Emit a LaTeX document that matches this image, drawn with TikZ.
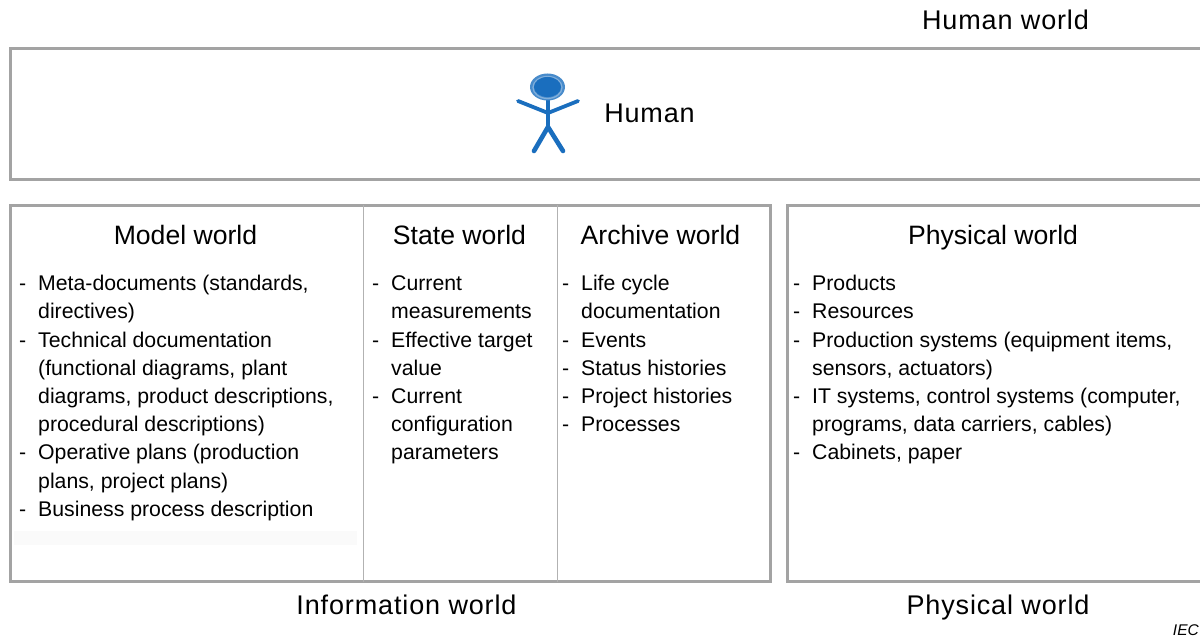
\documentclass[tikz,border=0pt]{standalone}
\usepackage{fontspec}
\setmainfont{Liberation Sans}
\newfontfamily\spacedfont[LetterSpace=3.2]{Liberation Sans}
\definecolor{figblue}{RGB}{26,110,190}
\tikzset{
 boxline/.style={draw=black!36,line width=2.2pt},
 divider/.style={draw=black!30,line width=1.8pt},
 wlabel/.style={font=\spacedfont\fontsize{27}{30}\selectfont,anchor=base,inner sep=0pt},
 head/.style={font=\fontsize{26.6}{30}\selectfont,anchor=base,inner sep=0pt},
 item/.style={font=\fontsize{21.25}{26}\selectfont,anchor=base west,inner sep=0pt},
 figure/.style={draw=figblue,line width=3.8pt,line cap=round},
}
\newcommand{\listblock}[3]{%
 \foreach \yy/\txt/\dd in {#3}{
  \node[item] at (#1,\yy) {\txt};
  \ifnum\dd=1 \node[item] at (#2,\yy) {-};\fi
 }}
\begin{document}
\begin{tikzpicture}[x=1pt,y=-1pt]
\useasboundingbox (0,0) rectangle (1200,639);
\fill[white] (0,0) rectangle (1200,639);
\node[wlabel,name=hw] at (1005.5,30) {Human world};
\draw[boxline] (10.5,48.5) rectangle (1204,179.5);
% figure
\draw[figure] (548,100)--(548,127);
\draw[figure] (518,101)--(548,113)--(578,101);
\draw[figure,line width=4.6pt] (534,151)--(548,127)--(563,151);
\fill[figblue!80] (547.5,87) ellipse (17.5 and 13.5);
\draw[white!45!figblue,line width=1.3pt] (547.5,87.5) ellipse (14.5 and 11);
\fill[figblue] (547.5,87) ellipse (13.5 and 10);
\node[wlabel,name=hu] at (649.5,123) {Human};
% information world
\draw[boxline] (10.5,205.5) rectangle (770.5,581.5);
\draw[divider] (363.5,205.5)--(363.5,581.5);
\draw[divider] (557.5,205.5)--(557.5,581.5);
\fill[black!2] (14,531) rectangle (357,545);
\node[head,name=mw] at (185.5,245) {Model world};
\node[head,name=sw] at (459.5,245) {State world};
\node[head,name=aw] at (660.5,245) {Archive world};
\listblock{38}{19}{290.5/Meta-documents (standards{,}/1,318.5/directives)/0,347/Technical documentation/1,375/(functional diagrams{,} plant/0,403/diagrams{,} product descriptions{,}/0,431/procedural descriptions)/0,459/Operative plans (production/1,488/plans{,} project plans)/0,516/Business process description/1}
\listblock{391}{372}{290.5/Current/1,318.5/measurements/0,347/Effective target/1,375/value/0,403/Current/1,431/configuration/0,459/parameters/0}
\listblock{581}{562}{290.5/Life cycle/1,318.5/documentation/0,347/Events/1,375/Status histories/1,403/Project histories/1,431/Processes/1}
% physical world
\draw[boxline] (787.5,205.5) rectangle (1204,581.5);
\node[head,name=pw] at (993,245) {Physical world};
\listblock{812}{793}{290.5/Products/1,318.5/Resources/1,347/Production systems (equipment items{,}/1,375/sensors{,} actuators)/0,403/IT systems{,} control systems (computer{,}/1,431/programs{,} data carriers{,} cables)/0,459/Cabinets{,} paper/1}
\node[wlabel,name=iw] at (406.5,614) {Information world};
\node[wlabel,name=pl] at (998,614) {Physical world};
\node[font=\fontsize{15.5}{18}\selectfont\itshape,anchor=base east,inner sep=0pt,name=iec] at (1199,635) {IEC};
\end{tikzpicture}
\end{document}
